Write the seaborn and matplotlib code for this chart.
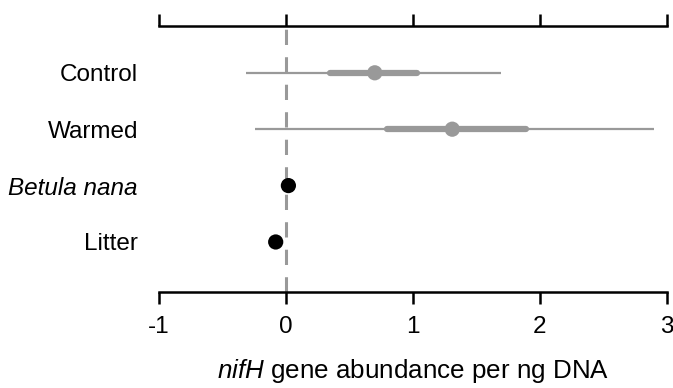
import matplotlib
matplotlib.use("Agg")
import matplotlib.pyplot as plt
import seaborn as sns
import pandas as pd

categories = ["Control", "Warmed", "Betula nana", "Litter"]
estimates = [0.70, 1.31, 0.02, -0.08]
ci95_low = [-0.31, -0.24, None, None]
ci95_high = [1.69, 2.90, None, None]
ci50_low = [0.35, 0.80, None, None]
ci50_high = [1.03, 1.89, None, None]
groups = ["grey", "grey", "black", "black"]
xticks = [-1, 0, 1, 2, 3]

sns.set_theme(style="white")
plt.rcParams['font.family'] = ['Liberation Sans', 'DejaVu Sans']
plt.rcParams['mathtext.fontset'] = 'custom'
plt.rcParams['mathtext.rm'] = 'Liberation Sans'
plt.rcParams['mathtext.it'] = 'Liberation Sans:italic'
plt.rcParams['text.color'] = 'black'
plt.rcParams['xtick.color'] = 'black'
plt.rcParams['ytick.color'] = 'black'
plt.rcParams['axes.labelcolor'] = 'black'

df = pd.DataFrame({"cat": categories, "est": estimates, "grp": groups,
                   "y": range(len(categories))})
palette = {"grey": "#999999", "black": "#000000"}

fig = plt.figure(figsize=(6.73, 3.88), dpi=100)
ax = fig.add_axes([0.236, 0.247, 0.755, 0.686])

ax.axvline(0, color="#999999", lw=2.2, ls=(0, (5, 4)), zorder=1)

for i in range(len(categories)):
    if ci95_low[i] is not None:
        c = palette[groups[i]]
        ax.hlines(i, ci95_low[i], ci95_high[i], color=c, lw=1.6, zorder=2)
        ax.hlines(i, ci50_low[i], ci50_high[i], color=c, lw=4.5, zorder=3,
                  capstyle="round")

sns.scatterplot(data=df, x="est", y="y", hue="grp", palette=palette, s=120,
                edgecolor="none", legend=False, ax=ax, zorder=4)

ax.set_xlim(-1, 3)
ax.set_ylim(3.89, -0.83)
ax.set_xticks(xticks)
ax.set_xticklabels([str(t) for t in xticks])
ax.set_yticks(range(len(categories)))
ax.set_yticklabels(categories)
for lbl in ax.get_yticklabels():
    if lbl.get_text() == "Betula nana":
        lbl.set_style("italic")

for s in ["left", "right"]:
    ax.spines[s].set_visible(False)
for s in ["top", "bottom"]:
    ax.spines[s].set_visible(True)
    ax.spines[s].set_color("black")
    ax.spines[s].set_linewidth(1.8)

ax.tick_params(axis="x", which="both", top=True, bottom=True, labeltop=False,
               direction="out", length=8.5, width=1.8, color="black",
               labelsize=17.5, labelcolor="black", pad=9)
ax.tick_params(axis="y", left=False, labelsize=17.5, labelcolor="black", pad=9)

ax.set_xlabel(r"$\it{nifH}$ gene abundance per ng DNA", fontsize=18.7,
              labelpad=13, color="black")
ax.set_ylabel("")
ax.grid(False)

fig.savefig("out.png", dpi=100)
